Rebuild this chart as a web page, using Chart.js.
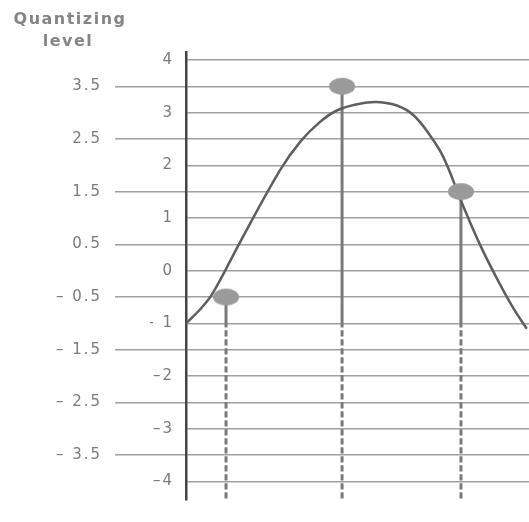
<!DOCTYPE html>
<html>
<head>
<meta charset="utf-8">
<script src="https://cdn.jsdelivr.net/npm/chart.js@4/dist/chart.umd.min.js"></script>
<style>
  html, body { margin: 0; padding: 0; background: #fff; }
  #wrap { width: 529px; height: 522px; position: relative; }
</style>
</head>
<body>
<div id="wrap"><canvas id="chart"></canvas></div>
<script>
// axis title (two lines, top left)
const titleLines = ['Quantizing', 'level'];

// quantizing levels and their labels
const yTicks = [4, 3.5, 3, 2.5, 2, 1.5, 1, 0.5, 0, -0.5, -1, -1.5, -2, -2.5, -3, -3.5, -4];
const yTickLabels = ['4', '3.5', '3', '2.5', '2', '1.5', '1', '0.5', '0', '– 0.5', '– 1', '– 1.5', '–2', '– 2.5', '–3', '– 3.5', '–4'];

// analog signal
const curveT =     [0, 0.12, 0.23, 0.47, 0.82, 1.0, 1.17, 1.32, 1.50, 1.67, 1.85, 1.99, 2.13, 2.25, 2.42, 2.57, 2.72, 2.86, 2.98];
const curveLevel = [-1, -0.74, -0.44, 0.53, 1.9, 2.45, 2.82, 3.04, 3.16, 3.2, 3.13, 2.95, 2.58, 2.16, 1.25, 0.5, -0.15, -0.7, -1.1];

// samples and the level each is quantized to
const sampleT = [0.35, 1.365, 2.405];
const sampleLevel = [-0.5, 3.5, 1.5];

const Y_MIN = -4.35, Y_MAX = 4.15;
const SOLID_TO = -1; // vertical markers turn dashed below this level

const gridGray = '#a0a0a0';
const textGray = '#7a7a7a';

function dotImage() {
    const c = document.createElement('canvas');
    c.width = 28; c.height = 19;
    const g = c.getContext('2d');
    g.fillStyle = '#9a9a9a';
    g.beginPath();
    g.ellipse(14, 9.5, 13, 8.5, 0, 0, Math.PI * 2);
    g.fill();
    return c;
}

const verticals = sampleT.map((t, i) => ({
    data: [
        { x: t, y: sampleLevel[i] },
        { x: t, y: Math.min(SOLID_TO, sampleLevel[i]) },
        { x: t, y: Y_MIN }
    ],
    showLine: true,
    pointRadius: 0,
    borderColor: '#7a7a7a',
    borderWidth: 3,
    segment: { borderDash: ctx => ctx.p0DataIndex === 1 ? [4, 5] : undefined },
    order: 2
}));

const spacingPlugin = {
    id: 'letterSpacing',
    beforeDraw(chart) { chart.ctx.letterSpacing = '2px'; }
};

const titlePlugin = {
    id: 'quantTitle',
    afterDraw(chart) {
        const ctx = chart.ctx;
        ctx.save();
        ctx.letterSpacing = '1.5px';
        ctx.font = 'bold 16px "DejaVu Sans"';
        ctx.fillStyle = '#858585';
        ctx.textAlign = 'center';
        ctx.textBaseline = 'middle';
        ctx.fillText(titleLines[0], 70, 20);
        ctx.fillText(titleLines[1], 68, 42);
        ctx.restore();
    }
};

const buildTicks = scale => { scale.ticks = yTicks.map(v => ({ value: v })); };
const labelFor = v => yTickLabels[yTicks.indexOf(v)] || '';

new Chart(document.getElementById('chart'), {
    type: 'scatter',
    data: {
        datasets: [
            {
                data: curveT.map((t, i) => ({ x: t, y: curveLevel[i] })),
                showLine: true,
                pointRadius: 0,
                borderColor: '#5e5e5e',
                borderWidth: 2.5,
                tension: 0.4,
                order: 1
            },
            ...verticals,
            {
                data: sampleT.map((t, i) => ({ x: t, y: sampleLevel[i] })),
                pointStyle: dotImage(),
                pointRadius: 10,
                order: 0
            }
        ]
    },
    options: {
        responsive: true,
        maintainAspectRatio: false,
        animation: false,
        layout: { autoPadding: false, padding: { top: 52, left: 0, right: 0, bottom: 0 } },
        plugins: { legend: { display: false }, tooltip: { enabled: false } },
        scales: {
            x: { type: 'linear', min: 0, max: 3, display: false },
            y: {
                position: 'left',
                weight: 0,
                min: Y_MIN, max: Y_MAX,
                afterBuildTicks: buildTicks,
                afterFit: s => { s.width = 36; },
                border: { display: true, color: '#444', width: 2.5 },
                grid: {
                    color: gridGray,
                    lineWidth: 1.5,
                    tickLength: 36,
                    tickColor: ctx => Number.isInteger(ctx.tick.value) ? 'rgba(0,0,0,0)' : gridGray
                },
                ticks: {
                    autoSkip: false,
                    padding: -24,
                    color: textGray,
                    font: { family: 'DejaVu Sans', size: 15 },
                    callback: v => Number.isInteger(v) ? labelFor(v) : ''
                }
            },
            y2: {
                position: 'left',
                weight: 1,
                min: Y_MIN, max: Y_MAX,
                afterBuildTicks: buildTicks,
                afterFit: s => { s.width = 150; },
                border: { display: false },
                grid: {
                    drawOnChartArea: false,
                    lineWidth: 1.5,
                    tickLength: 35,
                    tickColor: ctx => Number.isInteger(ctx.tick.value) ? 'rgba(0,0,0,0)' : gridGray
                },
                ticks: {
                    autoSkip: false,
                    padding: 13,
                    color: textGray,
                    font: { family: 'DejaVu Sans', size: 15 },
                    callback: v => Number.isInteger(v) ? '' : labelFor(v)
                }
            }
        }
    },
    plugins: [spacingPlugin, titlePlugin]
});
</script>
</body>
</html>
